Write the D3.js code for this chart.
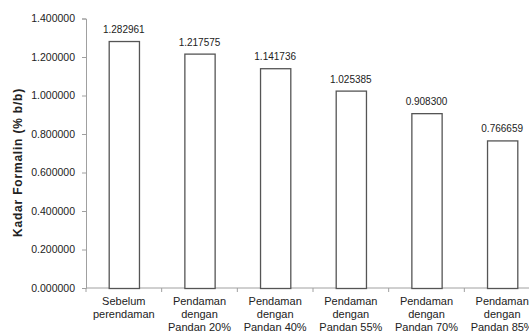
<!DOCTYPE html>
<html><head><meta charset="utf-8">
<script src="https://cdn.jsdelivr.net/npm/d3@7"></script>
<style>body{margin:0;background:#fff}svg{display:block}</style>
</head><body>
<svg id="c" width="529" height="333"></svg>
<script>
const categories = [
  ["Sebelum","perendaman"],
  ["Pendaman","dengan","Pandan 20%"],
  ["Pendaman","dengan","Pandan 40%"],
  ["Pendaman","dengan","Pandan 55%"],
  ["Pendaman","dengan","Pandan 70%"],
  ["Pendaman","dengan","Pandan 85%"]
];
const values = [1.282961, 1.217575, 1.141736, 1.025385, 0.908300, 0.766659];
const valueLabels = ["1.282961","1.217575","1.141736","1.025385","0.908300","0.766659"];
const yTicks = [0, 0.2, 0.4, 0.6, 0.8, 1.0, 1.2, 1.4];
const yTitle = "Kadar Formalin (% b/b)";

const svg = d3.select("#c");
const font = "Liberation Sans, Arial, sans-serif";
const x = d3.scaleBand().domain(d3.range(categories.length)).range([86, 540]).paddingInner(0).paddingOuter(0);
const y = d3.scaleLinear().domain([0, 1.4]).range([288, 18.5]);

// y axis
const ya = svg.append("g").attr("transform","translate(86,0)")
  .call(d3.axisLeft(y).tickValues(yTicks).tickSize(4).tickPadding(7).tickFormat(d3.format(".6f")));
ya.selectAll("path,line").attr("stroke","#a0a0a0");
ya.selectAll("text").attr("font-family",font).attr("font-size",10.5).attr("fill","#222");

// x axis
const xa = svg.append("g").attr("transform","translate(0,288)");
xa.append("line").attr("x1",86).attr("x2",540).attr("stroke","#a0a0a0");
xa.selectAll("line.t").data(d3.range(categories.length+1)).enter().append("line")
  .attr("x1",i=>86+i*x.bandwidth()).attr("x2",i=>86+i*x.bandwidth())
  .attr("y1",0).attr("y2",4).attr("stroke","#a0a0a0");

const bw = x.bandwidth()*0.4;
svg.selectAll("rect.bar").data(values).enter().append("rect")
  .attr("x",(d,i)=>x(i)+x.bandwidth()/2-bw/2+0.5).attr("width",bw)
  .attr("y",d=>y(d)+0.5).attr("height",d=>288-y(d))
  .attr("fill","#fff").attr("stroke","#555").attr("stroke-width",1.3);

svg.selectAll("text.val").data(values).enter().append("text")
  .attr("x",(d,i)=>x(i)+x.bandwidth()/2).attr("y",d=>y(d)-8)
  .attr("text-anchor","middle").attr("font-family",font).attr("font-size",10).attr("fill","#222")
  .text((d,i)=>valueLabels[i]);

const cl = svg.selectAll("text.cat").data(categories).enter().append("text")
  .attr("text-anchor","middle").attr("font-family",font).attr("font-size",11).attr("fill","#222");
cl.each(function(lines,i){
  const t=d3.select(this);
  lines.forEach((l,j)=>t.append("tspan").attr("x",x(i)+x.bandwidth()/2).attr("y",304.5+j*13).text(l));
});

svg.append("text").attr("transform","translate(22,162.5) rotate(-90)")
  .attr("text-anchor","middle").attr("font-family",font).attr("font-size",12).attr("letter-spacing",0.8)
  .attr("font-weight","bold").attr("fill","#222")
  .text(yTitle);
</script>
</body></html>
